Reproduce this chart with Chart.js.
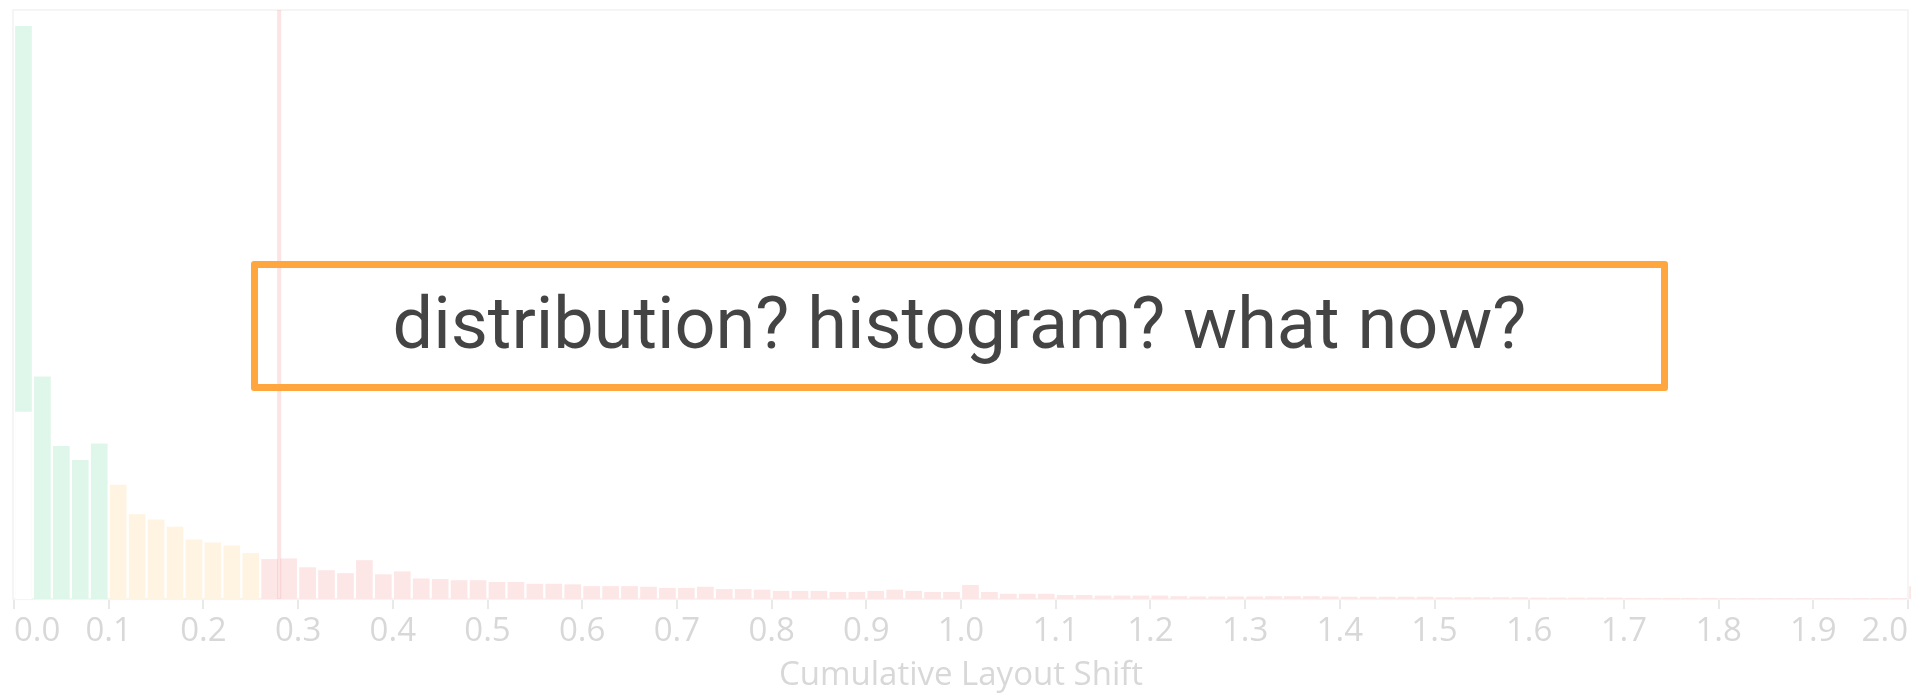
<!DOCTYPE html>
<html>
<head>
<meta charset="utf-8">
<title>CLS distribution</title>
<script src="https://cdn.jsdelivr.net/npm/chart.js@4.4.1/dist/chart.umd.min.js"></script>
<style>
  html, body { margin: 0; padding: 0; background: #fff; }
  #wrap { position: relative; width: 1913px; height: 694px; }
  #note {
    position: absolute; left: 251px; top: 261px;
    width: 1403px; height: 116px;
    border: 7px solid #ffa73e; border-radius: 3px;
  }
  #note span {
    position: absolute; left: 0; right: 0; top: 20px;
    text-align: center; white-space: nowrap;
    font-family: Roboto; font-size: 72px; line-height: 72px; color: #444;
  }
</style>
</head>
<body>
<div id="wrap">
  <canvas id="myChart"></canvas>
  <div id="note"><span>distribution? histogram? what now?</span></div>
</div>
<script>
// histogram bins are 0.02 wide, heights are share of page loads (relative units)
var binWidth = 0.02;
var goodShare = [97.3, 37.8, 26.0, 23.6, 26.4];                 // 0.00 - 0.10
var firstBinMask = [31.8];                                      // white lower part of first bin
var needsWorkShare = [19.4, 14.4, 13.5, 12.3, 10.1, 9.6, 9.1, 7.8]; // 0.10 - 0.26
var poorShare = [                                               // 0.26 - 2.02
  6.8, 6.9, 5.4, 4.9, 4.4, 6.6, 4.2, 4.7,
  3.5, 3.4, 3.2, 3.2, 2.9, 2.9, 2.6, 2.6, 2.5, 2.2,
  2.2, 2.2, 2.1, 1.9, 1.9, 2.1, 1.7, 1.7, 1.6, 1.4,
  1.4, 1.4, 1.2, 1.2, 1.4, 1.6, 1.4, 1.2, 1.2, 2.4,
  1.2, 0.9, 0.9, 0.9, 0.7, 0.7, 0.6, 0.6, 0.6, 0.6,
  0.5, 0.45, 0.45, 0.45, 0.45, 0.5, 0.5, 0.5, 0.45, 0.4,
  0.4, 0.4, 0.4, 0.4, 0.3, 0.3, 0.3, 0.3, 0.3, 0.25,
  0.25, 0.25, 0.25, 0.25, 0.2, 0.2, 0.2, 0.2, 0.2, 0.15,
  0.15, 0.15, 0.15, 0.15, 0.15, 0.15, 0.15, 0.15, 0.15,
  2.2
];
var p75 = 0.28;
var tickLabels = ["0.0","0.1","0.2","0.3","0.4","0.5","0.6","0.7","0.8","0.9","1.0",
                  "1.1","1.2","1.3","1.4","1.5","1.6","1.7","1.8","1.9","2.0"];

function toPoints(values, firstBin) {
  return values.map(function (v, i) {
    return { x: (firstBin + i) * binWidth + binWidth / 2, y: v };
  });
}

var p75Line = {
  id: 'p75Line',
  beforeDatasetsDraw: function (chart) {
    var a = chart.chartArea, c = chart.ctx;
    c.save();
    c.strokeStyle = '#f5f5f5';
    c.lineWidth = 2;
    c.strokeRect(a.left - 1, a.top, a.right - a.left + 1, a.bottom - a.top);
    c.restore();
  },
  afterDatasetsDraw: function (chart) {
    var a = chart.chartArea, c = chart.ctx;
    var x = chart.scales.x.getPixelForValue(p75);
    c.save();
    c.strokeStyle = 'rgba(245, 120, 120, 0.2)';
    c.lineWidth = 4;
    c.beginPath();
    c.moveTo(x, a.top);
    c.lineTo(x, a.bottom);
    c.stroke();
    c.restore();
  }
};

var ctx = document.getElementById("myChart");
var myChart = new Chart(ctx, {
  type: 'bar',
  data: {
    datasets: [
      { label: 'mask', data: toPoints(firstBinMask, 0), backgroundColor: '#ffffff', order: 0 },
      { label: 'good', data: toPoints(goodShare, 0), backgroundColor: '#dff7ea', order: 1 },
      { label: 'needs improvement', data: toPoints(needsWorkShare, 5), backgroundColor: '#fff3e1', order: 1 },
      { label: 'poor', data: toPoints(poorShare, 13), backgroundColor: '#fde6e6', order: 1,
        clip: { left: 0, top: 0, right: 3, bottom: 0 } }
    ]
  },
  options: {
    responsive: true,
    maintainAspectRatio: false,
    animation: false,
    datasets: { bar: { grouped: false, barPercentage: 1, categoryPercentage: 0.88 } },
    layout: { padding: { top: 10, left: 14, right: 5, bottom: 0 } },
    plugins: { legend: { display: false }, tooltip: { enabled: false } },
    scales: {
      x: {
        type: 'linear',
        min: 0,
        max: 2,
        offset: false,
        grid: { offset: false, drawOnChartArea: false, drawTicks: true, tickLength: 10, color: '#e9e9e9', lineWidth: 2 },
        border: { color: '#ececec', width: 2 },
        ticks: {
          stepSize: 0.1,
          align: 'inner',
          autoSkip: false,
          maxRotation: 0,
          padding: 3,
          color: '#d8d8d8',
          font: { family: 'Open Sans', size: 33 },
          callback: function (v, i) { return tickLabels[i]; }
        },
        title: {
          display: true,
          text: 'Cumulative Layout Shift',
          color: '#d8d8d8',
          font: { family: 'Open Sans', size: 33, lineHeight: 1.1 },
          padding: { top: 3, bottom: 0 }
        }
      },
      y: { display: false, min: 0, max: 100 }
    }
  },
  plugins: [p75Line]
});
</script>
</body>
</html>
